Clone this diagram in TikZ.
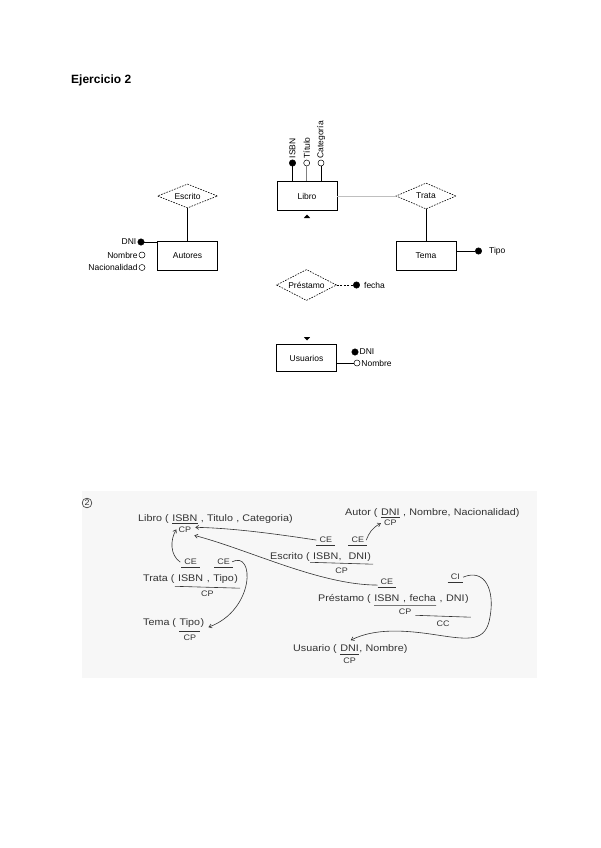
\documentclass[tikz,border=0pt]{standalone}
\usepackage{fontspec}
\setmainfont{Liberation Sans}
\newfontfamily\handfont[FakeStretch=1.12]{Liberation Sans}
\usetikzlibrary{shapes.geometric,arrows.meta}
\newcommand{\hsp}{\kern3.2pt}
\begin{document}
\begin{tikzpicture}[x=1pt,y=-1pt,
  erfont/.style={font=\fontsize{8.5}{10}\selectfont},
  entity/.style={draw, line width=0.8pt, minimum width=60pt, minimum height=29pt, inner sep=0pt, erfont},
  rel/.style={diamond, draw, dash pattern=on 1.6pt off 1.2pt, line width=0.6pt, minimum width=60pt, minimum height=24pt, inner sep=0pt, aspect=2.5, erfont},
  fdot/.style={circle, fill=black, draw=black, minimum size=6.5pt, inner sep=0pt},
  odot/.style={circle, draw=black, line width=0.5pt, minimum size=6pt, inner sep=0pt},
  attr/.style={erfont, inner sep=1pt},
  hw/.style={font=\handfont\fontsize{9.6}{11}\selectfont, inner sep=0pt, anchor=base west, text=black!80},
  hwc/.style={font=\handfont\fontsize{8}{9}\selectfont, inner sep=0pt, text=black!80},
  hwl/.style={draw=black!80, line width=0.6pt},
  arr/.style={draw=black!80, line width=0.6pt, -{Straight Barb[length=3pt,width=4pt]}}
]
\useasboundingbox (0,0) rectangle (600,848);
\fill[white] (0,0) rectangle (600,848);

% ---------- title ----------
\node[anchor=west, inner sep=0pt, font=\bfseries\fontsize{12}{14}\selectfont] (title) at (71,80) {Ejercicio 2};

% ---------- ER diagram ----------
\node[entity] (libro) at (307,196) {Libro};
\node[fdot] (lisbn) at (292.5,163) {};
\node[odot] (ltit) at (306.7,163) {};
\node[odot] (lcat) at (321,163) {};
\draw[line width=0.8pt] (lisbn) -- (lisbn |- libro.north);
\draw[line width=0.5pt, black!50] (ltit) -- (ltit |- libro.north);
\draw[line width=0.8pt] (lcat) -- (lcat |- libro.north);
\node[attr, rotate=90, anchor=west] (tisbn) at (lisbn.north) {ISBN};
\node[attr, rotate=90, anchor=west] (ttit) at (ltit.north) {Título};
\node[attr, rotate=90, anchor=west] (tcat) at (lcat.north) {Categoría};
\fill (303.8,218) -- (310.2,218) -- (307,214.5) -- cycle;

\node[rel] (escrito) at (187.5,196) {Escrito};
\node[entity] (autores) at (187.5,255.5) {Autores};
\draw[line width=0.8pt] (escrito.south) -- (autores.north);
\node[fdot] (adni) at (141,242) {};
\draw[line width=0.8pt] (adni) -- (adni -| autores.west);
\node[attr, anchor=east] (tadni) at (adni.west) {DNI};
\node[odot] (anom) at (142,255) {};
\node[attr, anchor=east] (tanom) at (anom.west) {Nombre};
\node[odot] (anac) at (142,267.5) {};
\node[attr, anchor=east] (tanac) at (anac.west) {Nacionalidad};

\node[rel, minimum height=26pt] (trata) at (426,196) {Trata};
\draw[line width=0.5pt, black!25] (libro.east) -- (trata.west);
\node[entity] (tema) at (426,255.5) {Tema};
\draw[line width=0.8pt] (trata.south) -- (tema.north);
\node[fdot] (tipo) at (478.5,251) {};
\draw[line width=0.8pt] (tema.east |- tipo) -- (tipo);
\node[attr, anchor=west] (ttipo) at ([xshift=6pt]tipo.east) {Tipo};

\node[rel, minimum height=31pt] (prestamo) at (306.5,285) {Préstamo};
\node[fdot] (fecha) at (356.5,285) {};
\draw[line width=0.8pt, dash pattern=on 2pt off 1.5pt] (prestamo.east) -- (fecha);
\node[attr, anchor=west] (tfecha) at ([xshift=3pt]fecha.east) {fecha};

\fill (303.8,337) -- (310.2,337) -- (307,340.5) -- cycle;
\node[entity, minimum height=27pt] (usuarios) at (306.5,358) {Usuarios};
\node[fdot] (udni) at (355,352) {};
\node[attr, anchor=west] (tudni) at (udni.east) {DNI};
\node[odot] (unom) at (357,363) {};
\draw[line width=0.8pt] (usuarios.east |- unom) -- (unom.west);
\node[attr, anchor=west] (tunom) at (unom.east) {Nombre};

% ---------- handwritten part ----------
\fill[black!3] (82,491) rectangle (537,678);
\node[draw=black!80, circle, line width=0.6pt, inner sep=0.8pt, font=\handfont\fontsize{8}{9}\selectfont, text=black!80] (num) at (87,503) {2};

% Libro
\node[hw] (L0) at (138,521) {Libro (\hsp};
\node[hw] (L1) at (L0.base east) {ISBN};
\node[hw] (L2) at (L1.base east) {\hsp,\hsp Titulo\hsp ,\hsp Categoria)};
\draw[hwl] ([yshift=-2pt]L1.south west) -- ([yshift=-2pt]L1.south east);
\node[hwc, anchor=north] (LCP) at ([yshift=-5pt]L1.south) {CP};

% Autor
\node[hw] (A0) at (345,515) {Autor (\hsp};
\node[hw] (A1) at (A0.base east) {DNI};
\node[hw] (A2) at (A1.base east) {\hsp,\hsp Nombre,\hsp Nacionalidad)};
\draw[hwl] ([yshift=-2pt]A1.south west) -- ([yshift=-2pt]A1.south east);
\node[hwc, anchor=north] (ACP) at ([yshift=-5pt]A1.south) {CP};

% Escrito
\node[hw] (E0) at (270,559) {Escrito (\hsp};
\node[hw] (E1) at (E0.base east) {ISBN};
\node[hw] (E2) at (E1.base east) {,\hsp\hsp};
\node[hw] (E3) at (E2.base east) {DNI};
\node[hw] (E4) at (E3.base east) {)};
\node[hwc, anchor=south] (ECE1) at ([yshift=9pt]E1.north) {CE};
\node[hwc, anchor=south] (ECE2) at ([yshift=9pt]E3.north) {CE};
\draw[hwl] ([xshift=-3pt,yshift=-2pt]ECE1.south west) -- ([xshift=3pt,yshift=-2pt]ECE1.south east);
\draw[hwl] ([xshift=-3pt,yshift=-2pt]ECE2.south west) -- ([xshift=3pt,yshift=-2pt]ECE2.south east);
\draw[hwl] ([xshift=-3pt,yshift=-3pt]E1.south west) -- ([xshift=2pt,yshift=-3pt]E4.south east) coordinate[pos=0.5] (Emid);
\node[hwc, anchor=north] (ECP) at ([yshift=-4pt]Emid) {CP};

% Trata
\node[hw] (T0) at (143,581) {Trata (\hsp};
\node[hw] (T1) at (T0.base east) {ISBN};
\node[hw] (T2) at (T1.base east) {\hsp,\hsp};
\node[hw] (T3) at (T2.base east) {Tipo};
\node[hw] (T4) at (T3.base east) {)};
\node[hwc, anchor=south] (TCE1) at ([yshift=9pt]T1.north) {CE};
\node[hwc, anchor=south] (TCE2) at ([yshift=9pt]T3.north) {CE};
\draw[hwl] ([xshift=-3pt,yshift=-2pt]TCE1.south west) -- ([xshift=3pt,yshift=-2pt]TCE1.south east);
\draw[hwl] ([xshift=-3pt,yshift=-2pt]TCE2.south west) -- ([xshift=3pt,yshift=-2pt]TCE2.south east);
\draw[hwl] ([xshift=-3pt,yshift=-5pt]T1.south west) -- ([xshift=2pt,yshift=-5pt]T4.south east) coordinate[pos=0.5] (Tmid);
\node[hwc, anchor=north] (TCP) at ([yshift=-3pt]Tmid) {CP};

% Tema
\node[hw] (M0) at (143,625) {Tema (\hsp};
\node[hw] (M1) at (M0.base east) {Tipo};
\node[hw] (M2) at (M1.base east) {)};
\draw[hwl] ([yshift=-4pt]M1.south west) -- ([yshift=-4pt]M1.south east);
\node[hwc, anchor=north] (MCP) at ([yshift=-8pt]M1.south) {CP};

% Prestamo
\node[hw] (P0) at (318,601) {Préstamo (\hsp};
\node[hw] (P1) at (P0.base east) {ISBN};
\node[hw] (P2) at (P1.base east) {\hsp,\hsp};
\node[hw] (P3) at (P2.base east) {fecha};
\node[hw] (P4) at (P3.base east) {\hsp,\hsp};
\node[hw] (P5) at (P4.base east) {DNI};
\node[hw] (P6) at (P5.base east) {)};
\node[hwc, anchor=south] (PCE) at ([yshift=9pt]P1.north) {CE};
\node[hwc, anchor=south] (PCI) at ([yshift=14pt]P5.north) {CI};
\draw[hwl] ([xshift=-3pt,yshift=-2pt]PCE.south west) -- ([xshift=3pt,yshift=-2pt]PCE.south east);
\draw[hwl] ([xshift=-3pt,yshift=-2pt]PCI.south west) -- ([xshift=3pt,yshift=-2pt]PCI.south east);
\draw[hwl] ([yshift=-4pt]P1.south west) -- ([yshift=-4pt]P3.south east) coordinate[pos=0.5] (Pmid);
\node[hwc, anchor=north] (PCP) at ([yshift=-3pt]Pmid) {CP};
\draw[hwl] ([xshift=6pt,yshift=-14pt]P3.south west) -- ([xshift=2pt,yshift=-14pt]P6.south east) coordinate[pos=0.5] (Qmid);
\node[hwc, anchor=north] (PCC) at ([yshift=-4pt]Qmid) {CC};

% Usuario
\node[hw] (U0) at (293,651) {Usuario (\hsp};
\node[hw] (U1) at (U0.base east) {DNI};
\node[hw] (U2) at (U1.base east) {,\hsp Nombre)};
\draw[hwl] ([yshift=-3pt]U1.south west) -- ([yshift=-3pt]U1.south east);
\node[hwc, anchor=north] (UCP) at ([yshift=-7pt]U1.south) {CP};

% arrows
\draw[arr] ([xshift=-3pt]ECE1.west) .. controls (270,533) and (230,528) .. ([xshift=4pt,yshift=2pt]LCP.east);
\draw[arr] ([xshift=2pt]ECE2.east) .. controls (369,533) and (372,528) .. ([xshift=-3pt]ACP.west);
\draw[arr] ([xshift=-3pt,yshift=-3pt]PCE.west) .. controls (320,585) and (250,550) .. ([xshift=3pt,yshift=-3pt]LCP.south east);
\draw[arr] ([xshift=-4pt]TCE1.west) .. controls (170,555) and (170,540) .. ([xshift=-2pt]LCP.west);
\draw[arr] ([xshift=2pt]TCE2.east) .. controls (255,550) and (255,610) .. ([xshift=8pt]M1.south east);
\draw[arr] ([xshift=3pt]PCI.east) .. controls (485,568) and (495,590) .. (490,617) .. controls (486,642) and (470,640) .. (437,635) .. controls (405,630) and (375,628) .. ([xshift=1pt,yshift=4pt]U1.north);
\end{tikzpicture}
\end{document}
